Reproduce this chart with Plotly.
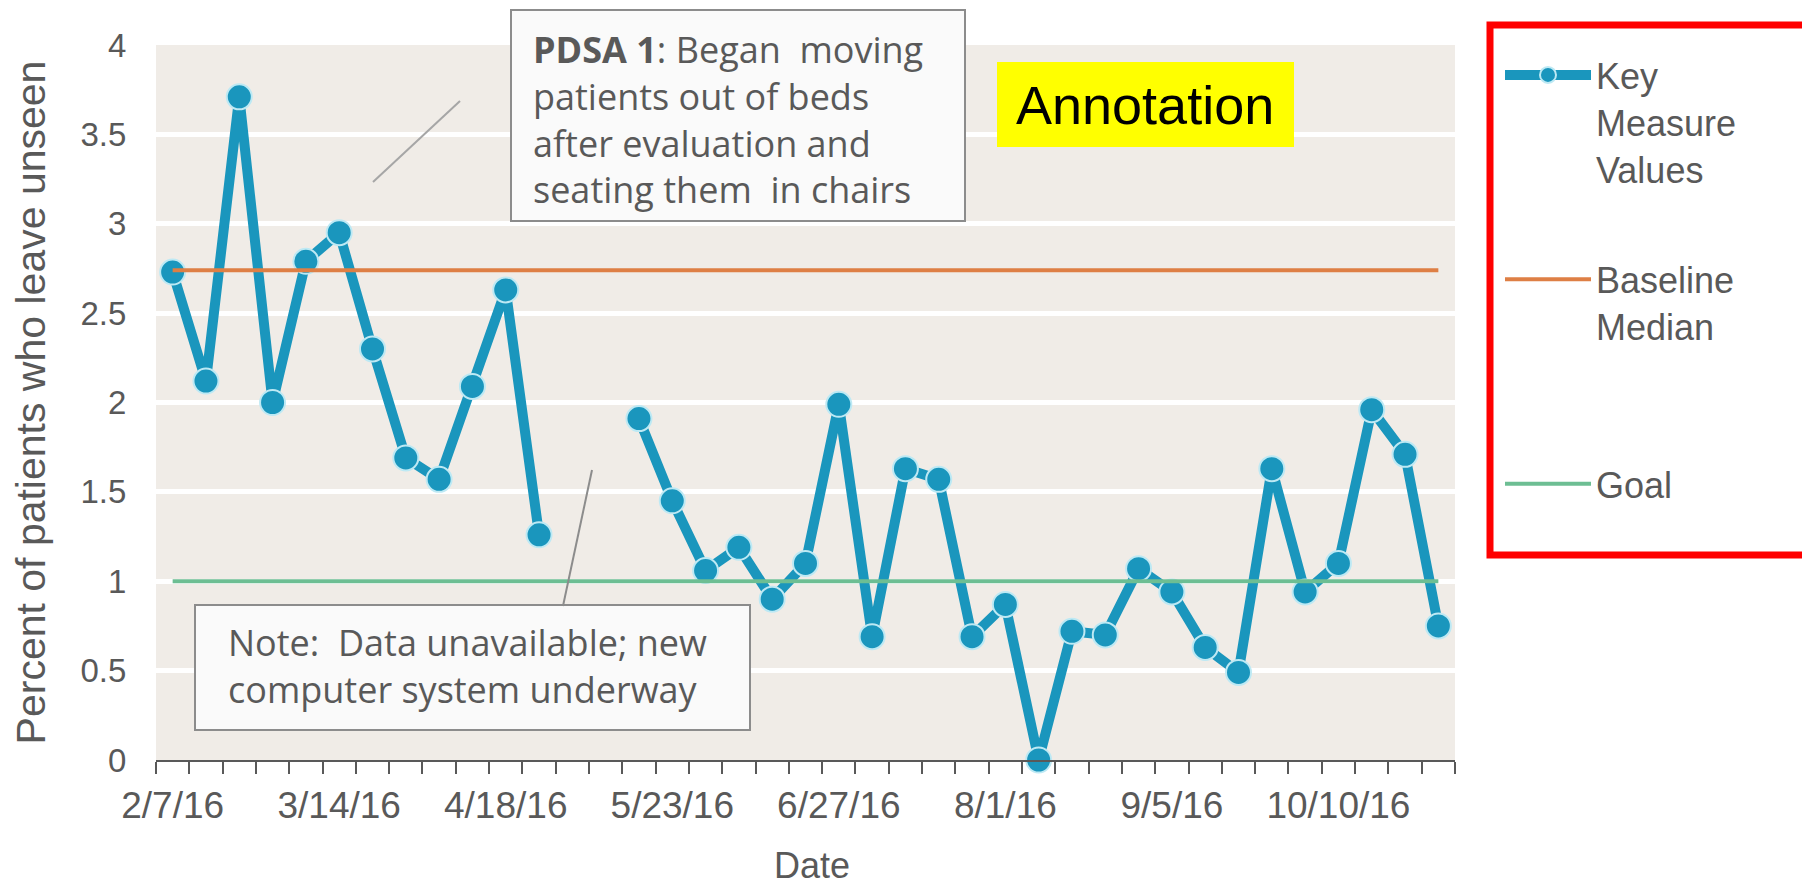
import plotly.graph_objects as go

# ---------------- data ----------------
dates = ["2/7/16", "2/14/16", "2/21/16", "2/28/16", "3/7/16", "3/14/16", "3/21/16",
         "3/28/16", "4/4/16", "4/11/16", "4/18/16", "4/25/16", "5/2/16", "5/9/16",
         "5/16/16", "5/23/16", "5/30/16", "6/6/16", "6/13/16", "6/20/16", "6/27/16",
         "7/4/16", "7/11/16", "7/18/16", "7/25/16", "8/1/16", "8/8/16", "8/15/16",
         "8/22/16", "8/29/16", "9/5/16", "9/12/16", "9/19/16", "9/26/16", "10/3/16",
         "10/10/16", "10/17/16", "10/24/16", "10/31/16"]

key_measure = [2.73, 2.12, 3.71, 2.00, 2.79, 2.95, 2.30, 1.69, 1.57, 2.09, 2.63, 1.26,
               None, None,
               1.91, 1.45, 1.06, 1.19, 0.90, 1.10, 1.99, 0.69, 1.63, 1.57, 0.69, 0.87,
               0.0, 0.72, 0.70, 1.07, 0.94, 0.63, 0.49, 1.63, 0.94, 1.10, 1.96, 1.71, 0.75]

baseline_median = 2.74
goal = 1.0

tick_labels = ["2/7/16", "3/14/16", "4/18/16", "5/23/16", "6/27/16", "8/1/16",
               "9/5/16", "10/10/16"]

y_ticks = [0, 0.5, 1, 1.5, 2, 2.5, 3, 3.5, 4]

# ---------------- layout helpers ----------------
W, H = 1802, 889
L, R, T, B = 156, 347, 45, 129
PW, PH = W - L - R, H - T - B


def px(x):
    return (x - L) / PW


def py(y):
    return (H - B - y) / PH


GRAY = "#595959"
KEY_COLOR = "#1A96BD"
ORANGE = "#DE7F45"
GREEN = "#6DBE93"
FONT = "Liberation Sans, Arial, sans-serif"
BOX_FONT = "Open Sans, sans-serif"

fig = go.Figure()

fig.add_trace(go.Scatter(
    x=dates, y=key_measure, mode="lines+markers",
    name="Key<br>Measure<br>Values", legendgroup="a",
    line=dict(color=KEY_COLOR, width=10),
    marker=dict(size=25, color=KEY_COLOR, line=dict(color="#BDE9F4", width=2)),
    cliponaxis=False,
))
fig.add_trace(go.Scatter(
    x=dates, y=[baseline_median] * len(dates), mode="lines",
    name="Baseline<br>Median<br> ", legendgroup="b",
    line=dict(color=ORANGE, width=4),
))
fig.add_trace(go.Scatter(
    x=dates, y=[goal] * len(dates), mode="lines",
    name="Goal", legendgroup="c",
    line=dict(color=GREEN, width=4),
))

tick_text = [d if d in tick_labels else "" for d in dates]

fig.update_xaxes(
    type="category", categoryorder="array", categoryarray=dates,
    range=[-0.5, len(dates) - 0.5],
    tickmode="array", tickvals=dates, ticktext=tick_text, tickangle=0,
    tickson="boundaries", ticks="outside", ticklen=12, tickwidth=2, tickcolor=GRAY,
    ticklabelstandoff=12,
    showline=True, linecolor=GRAY, linewidth=2,
    showgrid=False, zeroline=False,
    tickfont=dict(family=FONT, size=37, color=GRAY),
)
fig.update_yaxes(
    range=[0, 4], tickmode="array", tickvals=y_ticks,
    showgrid=True, gridcolor="white", gridwidth=5, zeroline=False,
    showline=False, ticks="outside", ticklen=22, tickcolor="rgba(0,0,0,0)",
    tickfont=dict(family=FONT, size=33, color=GRAY),
    title=dict(text="Percent of patients who leave unseen",
               font=dict(family=FONT, size=41, color=GRAY), standoff=22),
)

shapes = [
    # legend red frame
    dict(type="rect", xref="paper", yref="paper",
         x0=px(1490), x1=px(1830), y0=py(555), y1=py(25),
         line=dict(color="#FF0000", width=7), fillcolor="rgba(0,0,0,0)", layer="above"),
    # PDSA box
    dict(type="rect", xref="paper", yref="paper",
         x0=px(511), x1=px(965), y0=py(221), y1=py(10),
         line=dict(color="#8C8C8C", width=2), fillcolor="#FAFAFA", layer="above"),
    # Note box
    dict(type="rect", xref="paper", yref="paper",
         x0=px(195), x1=px(750), y0=py(730), y1=py(605),
         line=dict(color="#8C8C8C", width=2), fillcolor="#FAFAFA", layer="above"),
    # Yellow annotation box
    dict(type="rect", xref="paper", yref="paper",
         x0=px(997), x1=px(1294), y0=py(147), y1=py(62),
         line=dict(width=0), fillcolor="#FFFF00", layer="above"),
    # connector lines
    dict(type="line", xref="paper", yref="paper",
         x0=px(373), y0=py(182), x1=px(460), y1=py(101),
         line=dict(color="#A6A6A6", width=2), layer="above"),
    dict(type="line", xref="paper", yref="paper",
         x0=px(563), y0=py(606), x1=px(592), y1=py(470),
         line=dict(color="#8C8C8C", width=2), layer="above"),
]

annotations = [
    dict(xref="paper", yref="paper", x=px(531), y=py(119), xanchor="left", yanchor="middle",
         align="left", showarrow=False,
         text="<b>PDSA 1</b>: Began  moving<br>patients out of beds<br>after evaluation and<br>seating them  in chairs",
         font=dict(family=BOX_FONT, size=36, color=GRAY)),
    dict(xref="paper", yref="paper", x=px(226), y=py(666), xanchor="left", yanchor="middle",
         align="left", showarrow=False,
         text="Note:  Data unavailable; new<br>computer system underway",
         font=dict(family=BOX_FONT, size=36, color=GRAY)),
    dict(xref="paper", yref="paper", x=px(1145), y=py(105), xanchor="center", yanchor="middle",
         showarrow=False, text="Annotation",
         font=dict(family=FONT, size=54, color="black")),
    # x-axis title
    dict(xref="paper", yref="paper", x=px(812), y=py(888), xanchor="center", yanchor="bottom",
         showarrow=False, text="Date",
         font=dict(family=FONT, size=36, color=GRAY)),
]

fig.update_layout(
    width=W, height=H,
    margin=dict(l=L, r=R, t=T, b=B, autoexpand=False),
    plot_bgcolor="#F0ECE7", paper_bgcolor="white",
    font=dict(family=FONT, color=GRAY),
    shapes=shapes, annotations=annotations,
    legend=dict(
        x=px(1500), y=py(45), xanchor="left", yanchor="top",
        font=dict(family=FONT, size=36, color=GRAY),
        bgcolor="rgba(0,0,0,0)", borderwidth=0,
        itemwidth=86, valign="top", tracegroupgap=61,
    ),
)

fig.write_html("out.html", config={"displayModeBar": False},
               post_script="document.body.style.margin='0';document.body.style.padding='0';")
